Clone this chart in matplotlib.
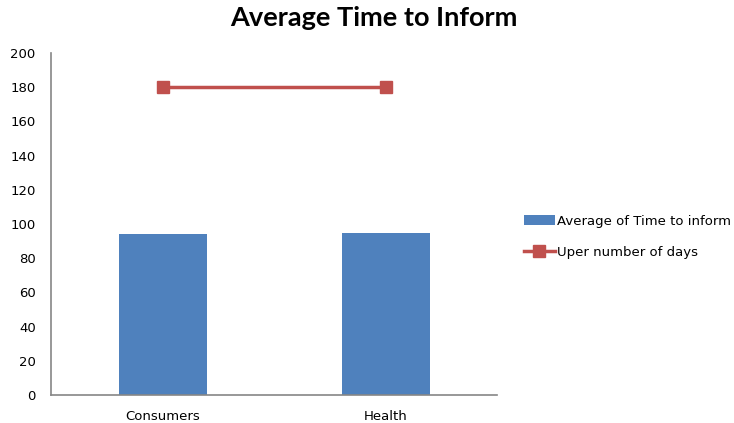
import matplotlib.pyplot as plt
from matplotlib.lines import Line2D
from matplotlib.patches import Patch

# Average days to inform, by group, against the upper limit of days
categories = ["Consumers", "Health"]
avg_time = [94, 94.6]
upper_days = [180, 180]

bar_color = "#4F81BD"
line_color = "#C0504D"
axis_color = "#868686"

fig = plt.figure(figsize=(7.34, 4.23), dpi=100)
ax = fig.add_axes([0.0695, 0.066, 0.608, 0.809])

x = range(len(categories))
ax.bar(x, avg_time, width=0.395, color=bar_color, zorder=2)
ax.plot(x, upper_days, color=line_color, lw=2.5, marker="s", markersize=8,
        zorder=3)

ax.set_xlim(-0.5, 1.5)
ax.set_ylim(0, 200)
ax.set_yticks(range(0, 201, 20))
ax.set_xticks(list(x))
ax.set_xticklabels(categories)

for side in ("top", "right"):
    ax.spines[side].set_visible(False)
for side in ("left", "bottom"):
    ax.spines[side].set_color(axis_color)
    ax.spines[side].set_linewidth(1.2)
ax.tick_params(axis="y", length=0, pad=11, labelsize=9.5, colors="black")
ax.tick_params(axis="x", length=0, pad=11, labelsize=9.5, colors="black")

fig.text(0.51, 0.958, "Average Time to Inform", ha="center", va="center",
         fontsize=19.5, fontweight="bold", family="Lato")

handles = [Patch(facecolor=bar_color, edgecolor="none"),
           Line2D([0], [0], color=line_color, lw=2.5, marker="s", markersize=8)]
labels = ["Average of Time to inform", "Uper number of days"]
fig.legend(handles, labels, loc="center left", bbox_to_anchor=(0.707, 0.44),
           frameon=False, fontsize=9.5, handlelength=2.3, handletextpad=0.15,
           labelspacing=1.4, borderaxespad=0)

fig.savefig("out.png", dpi=100)
